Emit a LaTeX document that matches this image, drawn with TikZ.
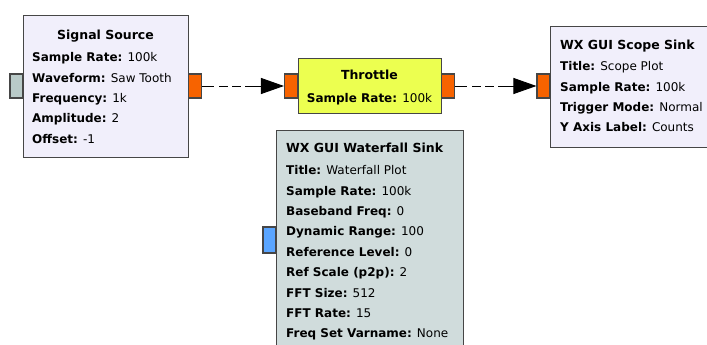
\documentclass[tikz,border=0pt]{standalone}
\usepackage{fontspec}
\setmainfont{DejaVu Sans}
\usetikzlibrary{arrows.meta}
\definecolor{lavender}{RGB}{241, 239, 251}
\definecolor{slate}{RGB}{208, 220, 220}
\definecolor{lemon}{RGB}{236, 255, 80}
\definecolor{pumpkin}{RGB}{247, 99, 0}
\definecolor{sage}{RGB}{185, 202, 200}
\definecolor{sky}{RGB}{90, 165, 255}
\definecolor{edge}{RGB}{70, 70, 70}
\tikzset{
    block/.style={draw=edge, line width=1.3pt, rectangle, inner sep=0pt, anchor=north west},
    port/.style={draw=edge, line width=1.1pt, rectangle, inner sep=0pt, minimum width=13pt, minimum height=24pt},
    title/.style={font=\fontsize{12.5}{14}\selectfont\bfseries, inner sep=0pt, anchor=base},
    params/.style={font=\fontsize{12}{20.4}\selectfont, align=left, inner sep=0pt, anchor=north west},
    flow/.style={line width=0.9pt, dash pattern=on 12pt off 5pt on 9pt off 4pt on 9pt off 4pt on 40pt,
                 -{Triangle[length=23pt, width=16pt]}}
}
\begin{document}
\begin{tikzpicture}[x=1pt, y=-1pt]
            \useasboundingbox (0,0) rectangle (707,345);
            \clip (0,0) rectangle (707,345);
            % blocks
            \node[block, fill=lavender, minimum width=165pt, minimum height=142pt] (src) at ( 23,  15) {};
            \node[block, fill=lemon,    minimum width=143pt, minimum height=55pt]  (thr) at (298,  58) {};
            \node[block, fill=lavender, minimum width=170pt, minimum height=121pt] (scp) at (550,  26) {};
            \node[block, fill=slate,    minimum width=187pt, minimum height=230pt] (wfl) at (276, 130) {};
            % ports
            \node[port, fill=sage]    (src-in)  at ( 16.5, 86) {};
            \node[port, fill=pumpkin] (src-out) at (195.0, 86) {};
            \node[port, fill=pumpkin] (thr-in)  at (291.0, 86) {};
            \node[port, fill=pumpkin] (thr-out) at (448.0, 86) {};
            \node[port, fill=pumpkin] (scp-in)  at (543.5, 86) {};
            \node[port, fill=sky, minimum height=26pt] (wfl-in) at (269.5, 240) {};
            % texts
            \node[title] (src-t) at (105.5, 39.7) {Signal Source};
            \node[params] (src-p) at (32, 52.3) {\textbf{Sample Rate:} 100k\\ \textbf{Waveform:} Saw Tooth\\
                 \textbf{Frequency:} 1k\\ \textbf{Amplitude:} 2\\ \textbf{Offset:} -1};
            \node[title] (thr-t) at (369.5, 79.7) {Throttle};
            \node[params, anchor=base] (thr-p) at (369.5, 102.4) {\textbf{Sample Rate:} 100k};
            \node[title, anchor=base west] (scp-t) at (560, 49.7) {WX GUI Scope Sink};
            \node[params] (scp-p) at (560, 61.3) {\textbf{Title:} Scope Plot\\ \textbf{Sample Rate:} 100k\\
                 \textbf{Trigger Mode:} Normal\\ \textbf{Y Axis Label:} Counts};
            \node[title, anchor=base west] (wfl-t) at (286, 152.7) {WX GUI Waterfall Sink};
            \node[params] (wfl-p) at (286, 165.3) {\textbf{Title:} Waterfall Plot\\ \textbf{Sample Rate:} 100k\\
                 \textbf{Baseband Freq:} 0\\ \textbf{Dynamic Range:} 100\\ \textbf{Reference Level:} 0\\
                 \textbf{Ref Scale (p2p):} 2\\ \textbf{FFT Size:} 512\\ \textbf{FFT Rate:} 15\\
                 \textbf{Freq Set Varname:} None};
            % connections
            \draw[flow] (src-out) -- (thr-in);
            \draw[flow] (thr-out) -- (scp-in);
        \end{tikzpicture}
\end{document}
